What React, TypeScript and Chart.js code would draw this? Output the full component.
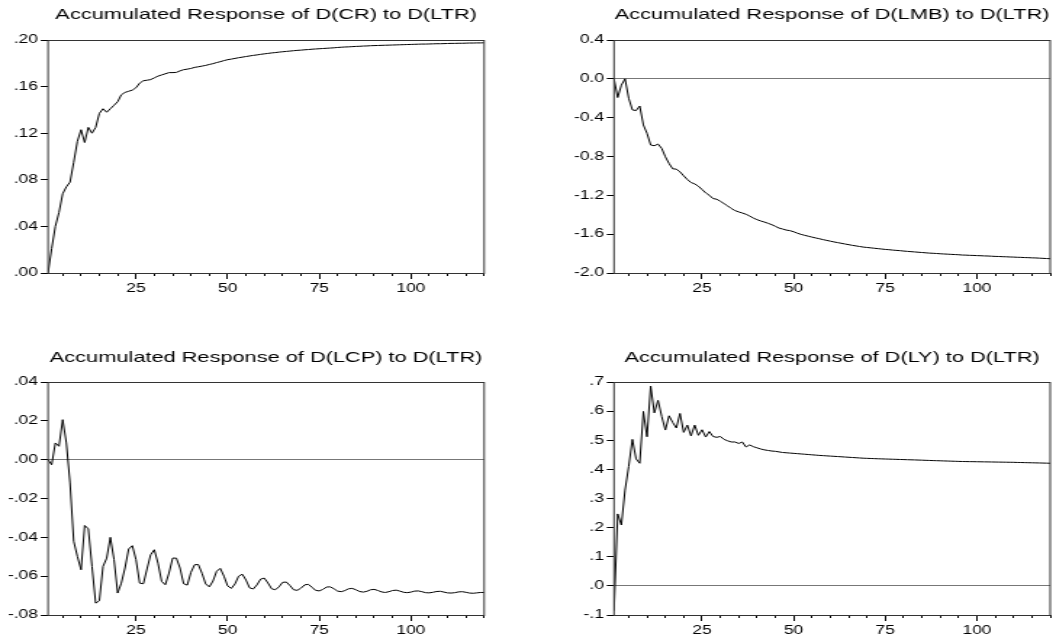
import React, { useEffect, useRef } from 'react';
import { Chart, registerables } from 'chart.js';

Chart.register(...registerables);

// ---------------- DATA ----------------
const periods: number[] = Array.from({ length: 120 }, (_, i) => i + 1);

const xMajorTicks = [25, 50, 75, 100];
const xMajorLabels = ['25', '50', '75', '100'];
const xMinorTicks = [5, 10, 15, 20, 25, 30, 35, 40, 45, 50, 55, 60, 65, 70, 75, 80, 85, 90, 95, 100, 105, 110, 115, 120];

const titles = [
  'Accumulated Response of D(CR) to D(LTR)',
  'Accumulated Response of D(LMB) to D(LTR)',
  'Accumulated Response of D(LCP) to D(LTR)',
  'Accumulated Response of D(LY) to D(LTR)',
];

const crTicks = [0, 0.04, 0.08, 0.12, 0.16, 0.2];
const crLabels = ['.00', '.04', '.08', '.12', '.16', '.20'];
const lmbTicks = [-2.0, -1.6, -1.2, -0.8, -0.4, 0, 0.4];
const lmbLabels = ['-2.0', '-1.6', '-1.2', '-0.8', '-0.4', '0.0', '0.4'];
const lcpTicks = [-0.08, -0.06, -0.04, -0.02, 0, 0.02, 0.04];
const lcpLabels = ['-.08', '-.06', '-.04', '-.02', '.00', '.02', '.04'];
const lyTicks = [-0.1, 0, 0.1, 0.2, 0.3, 0.4, 0.5, 0.6, 0.7];
const lyLabels = ['-.1', '.0', '.1', '.2', '.3', '.4', '.5', '.6', '.7'];

const crResp = [
  0, 0.021, 0.040, 0.052, 0.068, 0.074, 0.078, 0.095, 0.113, 0.123,
  0.112, 0.125, 0.120, 0.125, 0.137, 0.141, 0.138, 0.141, 0.144, 0.147,
  0.153, 0.155, 0.156, 0.157, 0.159, 0.163, 0.165, 0.1655, 0.166, 0.1675,
  0.169, 0.170, 0.171, 0.172, 0.172, 0.1722, 0.1735, 0.1745, 0.175, 0.1756,
  0.1765, 0.1770, 0.1776, 0.1782, 0.1790, 0.1797, 0.1806, 0.1814, 0.1823, 0.1831,
  0.1836, 0.1842, 0.1848, 0.1853, 0.1858, 0.1863, 0.1868, 0.1872, 0.1877, 0.1881,
  0.1885, 0.1889, 0.1892, 0.1896, 0.1899, 0.1902, 0.1905, 0.1908, 0.1911, 0.1913,
  0.1916, 0.1918, 0.1921, 0.1923, 0.1925, 0.1927, 0.1929, 0.1931, 0.1933, 0.1936,
  0.1938, 0.1940, 0.1941, 0.1943, 0.1945, 0.1946, 0.1948, 0.1949, 0.1951, 0.1952,
  0.1953, 0.1954, 0.1955, 0.1956, 0.1957, 0.1958, 0.1959, 0.1960, 0.1961, 0.1962,
  0.1963, 0.1964, 0.1965, 0.1965, 0.1966, 0.1967, 0.1968, 0.1968, 0.1969, 0.1970,
  0.1971, 0.1971, 0.1972, 0.1972, 0.1973, 0.1974, 0.1974, 0.1975, 0.1975, 0.1976,
];

const lmbResp = [
  0, -0.193, -0.065, 0.000, -0.200, -0.320, -0.327, -0.280, -0.475, -0.561,
  -0.682, -0.689, -0.672, -0.716, -0.803, -0.872, -0.927, -0.930, -0.958, -0.999,
  -1.037, -1.068, -1.082, -1.106, -1.140, -1.175, -1.199, -1.233, -1.240, -1.261,
  -1.285, -1.309, -1.336, -1.357, -1.371, -1.382, -1.395, -1.413, -1.434, -1.450,
  -1.464, -1.475, -1.488, -1.502, -1.519, -1.537, -1.547, -1.558, -1.564, -1.575,
  -1.590, -1.602, -1.612, -1.621, -1.630, -1.639, -1.647, -1.656, -1.664, -1.672,
  -1.680, -1.687, -1.694, -1.701, -1.708, -1.715, -1.721, -1.727, -1.733, -1.737,
  -1.741, -1.745, -1.749, -1.753, -1.757, -1.760, -1.764, -1.767, -1.770, -1.774,
  -1.777, -1.780, -1.783, -1.786, -1.789, -1.792, -1.795, -1.797, -1.799, -1.802,
  -1.804, -1.806, -1.808, -1.810, -1.812, -1.815, -1.816, -1.818, -1.819, -1.821,
  -1.822, -1.824, -1.825, -1.827, -1.829, -1.830, -1.832, -1.833, -1.835, -1.836,
  -1.838, -1.839, -1.841, -1.842, -1.844, -1.845, -1.847, -1.849, -1.851, -1.853,
];

const lcpResp = [
  0, -0.0026, 0.0086, 0.0069, 0.0206, 0.0086, -0.012, -0.042, -0.0498, -0.0567,
  -0.0339, -0.0356, -0.055, -0.0739, -0.0727, -0.055, -0.0507, -0.040, -0.0515, -0.0687,
  -0.0636, -0.0558, -0.046, -0.0443, -0.0515, -0.0636, -0.0639, -0.0563, -0.049, -0.0464,
  -0.0533, -0.0627, -0.0644, -0.0584, -0.0507, -0.0507, -0.0558, -0.0639, -0.0646, -0.0580,
  -0.0541, -0.0540, -0.0585, -0.0640, -0.0655, -0.0625, -0.0575, -0.0560, -0.0600, -0.0650,
  -0.0663, -0.0640, -0.0600, -0.0590, -0.0620, -0.0660, -0.0666, -0.0645, -0.0615, -0.0610,
  -0.0635, -0.0665, -0.0670, -0.0655, -0.0632, -0.0630, -0.0648, -0.0670, -0.0673, -0.0662,
  -0.0645, -0.0642, -0.0657, -0.0673, -0.0676, -0.0668, -0.0656, -0.0655, -0.0665, -0.0677,
  -0.0680, -0.0674, -0.0665, -0.0663, -0.0670, -0.0679, -0.0682, -0.0678, -0.0670, -0.0668,
  -0.0674, -0.0681, -0.0684, -0.0680, -0.0674, -0.0672, -0.0677, -0.0683, -0.0685, -0.0682,
  -0.0677, -0.0676, -0.0680, -0.0685, -0.0686, -0.0683, -0.0679, -0.0678, -0.0682, -0.0686,
  -0.0687, -0.0685, -0.0681, -0.0680, -0.0683, -0.0687, -0.0688, -0.0686, -0.0684, -0.0684,
];

const lyResp = [
  -0.085, 0.247, 0.209, 0.329, 0.410, 0.503, 0.436, 0.421, 0.599, 0.512,
  0.686, 0.594, 0.637, 0.582, 0.535, 0.584, 0.561, 0.542, 0.592, 0.527,
  0.552, 0.515, 0.552, 0.517, 0.536, 0.511, 0.530, 0.513, 0.510, 0.513,
  0.503, 0.498, 0.494, 0.494, 0.489, 0.494, 0.477, 0.484, 0.478, 0.474,
  0.470, 0.467, 0.465, 0.463, 0.462, 0.460, 0.458, 0.457, 0.456, 0.455,
  0.454, 0.453, 0.452, 0.451, 0.450, 0.449, 0.448, 0.4472, 0.4464, 0.4456,
  0.4448, 0.4440, 0.4432, 0.4424, 0.4416, 0.4408, 0.4400, 0.4392, 0.4384, 0.4379,
  0.4374, 0.4369, 0.4364, 0.4360, 0.4356, 0.4352, 0.4348, 0.4344, 0.4340, 0.4336,
  0.4332, 0.4328, 0.4325, 0.4320, 0.4316, 0.4311, 0.4307, 0.4302, 0.4298, 0.4294,
  0.4290, 0.4286, 0.4282, 0.4278, 0.4274, 0.4270, 0.4268, 0.4266, 0.4264, 0.4262,
  0.4260, 0.4258, 0.4256, 0.4254, 0.4252, 0.4250, 0.4248, 0.4246, 0.4244, 0.4242,
  0.4238, 0.4235, 0.4232, 0.4229, 0.4226, 0.4223, 0.4220, 0.4217, 0.4214, 0.4210,
];

// ---------------- STYLE / LAYOUT ----------------
const STRETCH = 1.45;
const FONT = '"Liberation Sans", Arial, Helvetica, sans-serif';

type PanelSpec = {
  title: string;
  values: number[];
  yTicks: number[];
  yLabels: string[];
  left: number;
  top: number;
  cssW: number;
  h: number;
  areaLeft: number;
  areaRight: number;
  titlePad: { top: number; bottom: number };
  xAxisH: number;
};

const topPad = { top: 6, bottom: 16 };
const botPad = { top: 28.5, bottom: 15.5 };

const panels: PanelSpec[] = [
  { title: titles[0], values: crResp, yTicks: crTicks, yLabels: crLabels, left: 0, top: 0, cssW: 528, h: 300, areaLeft: 48, areaRight: 484, titlePad: topPad, xAxisH: 27 },
  { title: titles[1], values: lmbResp, yTicks: lmbTicks, yLabels: lmbLabels, left: 528, top: 0, cssW: 528, h: 300, areaLeft: 86, areaRight: 522, titlePad: topPad, xAxisH: 27 },
  { title: titles[2], values: lcpResp, yTicks: lcpTicks, yLabels: lcpLabels, left: 0, top: 320, cssW: 528, h: 319, areaLeft: 48, areaRight: 484, titlePad: botPad, xAxisH: 24 },
  { title: titles[3], values: lyResp, yTicks: lyTicks, yLabels: lyLabels, left: 528, top: 320, cssW: 528, h: 319, areaLeft: 86, areaRight: 522, titlePad: botPad, xAxisH: 24 },
];

const framePlugin = {
  id: 'frame',
  afterDraw(chart: any) {
    const { ctx, chartArea: a } = chart;
    ctx.save();
    ctx.strokeStyle = '#333';
    ctx.lineWidth = 1;
    const t = Math.round(a.top) + 0.5;
    const b = Math.round(a.bottom) + 0.5;
    ctx.strokeRect(a.left, t, a.right - a.left, b - t);
    ctx.restore();
  },
};

function Panel({ spec }: { spec: PanelSpec }) {
  const ref = useRef<HTMLCanvasElement>(null);
  const W = Math.round(spec.cssW / STRETCH);

  useEffect(() => {
    const canvas = ref.current!;
    const yW = spec.areaLeft / STRETCH;
    const padR = W - spec.areaRight / STRETCH;
    const yMin = spec.yTicks[0];
    const yMax = spec.yTicks[spec.yTicks.length - 1];
    const chart = new Chart(canvas, {
      type: 'line',
      data: {
        labels: periods,
        datasets: [
          {
            data: spec.values,
            borderColor: '#000',
            borderWidth: 1,
            pointRadius: 0,
            tension: 0,
            fill: false,
          },
        ],
      },
      options: {
        responsive: false,
        animation: false,
        devicePixelRatio: 1,
        events: [],
        layout: { padding: { left: 0, right: padR, top: 0, bottom: 0 } },
        plugins: {
          legend: { display: false },
          tooltip: { enabled: false },
          title: {
            display: true,
            text: spec.title,
            fullSize: false,
            color: '#000',
            font: { family: FONT, size: 15, weight: 'normal', lineHeight: 1.2 },
            padding: spec.titlePad,
          },
        },
        scales: {
          xMinor: {
            type: 'linear',
            position: 'bottom',
            weight: -1,
            min: 1,
            max: 120,
            afterBuildTicks: (s: any) => {
              s.ticks = xMinorTicks.map((v) => ({ value: v }));
            },
            afterFit: (s: any) => {
              s.height = 0;
            },
            ticks: { display: false },
            grid: { drawOnChartArea: false, tickLength: 3, tickColor: '#000', tickWidth: 1 },
            border: { display: false },
          },
          x: {
            type: 'linear',
            position: 'bottom',
            min: 1,
            max: 120,
            afterBuildTicks: (s: any) => {
              s.ticks = xMajorTicks.map((v) => ({ value: v }));
            },
            afterFit: (s: any) => {
              s.height = spec.xAxisH;
            },
            ticks: {
              color: '#000',
              font: { family: FONT, size: 12 },
              padding: 2,
              maxRotation: 0,
              autoSkip: false,
              callback: (_v: any, i: number) => xMajorLabels[i],
            },
            grid: { drawOnChartArea: false, tickLength: 6, tickColor: '#000', tickWidth: 1 },
            border: { display: false },
          },
          y: {
            type: 'linear',
            position: 'left',
            min: yMin,
            max: yMax,
            afterBuildTicks: (s: any) => {
              s.ticks = spec.yTicks.map((v) => ({ value: v }));
            },
            afterFit: (s: any) => {
              s.width = yW;
            },
            ticks: {
              color: '#000',
              font: { family: FONT, size: 12 },
              padding: 2,
              autoSkip: false,
              callback: (_v: any, i: number) => spec.yLabels[i],
            },
            grid: {
              color: (c: any) => (c.tick && c.tick.value === 0 ? '#777' : 'rgba(0,0,0,0)'),
              lineWidth: 1,
              tickLength: 5,
              tickColor: '#000',
              tickWidth: 1,
            },
            border: { display: false },
          },
        },
      } as any,
      plugins: [framePlugin],
    });
    return () => chart.destroy();
  }, []);

  return (
    <canvas
      ref={ref}
      width={W}
      height={spec.h}
      style={{
        position: 'absolute',
        left: spec.left,
        top: spec.top,
        width: `${W * STRETCH}px`,
        height: `${spec.h}px`,
      }}
    />
  );
}

export default function App() {
  return (
    <div
      style={{
        position: 'fixed',
        left: 0,
        top: 0,
        width: 1056,
        height: 639,
        background: '#fff',
        overflow: 'hidden',
      }}
    >
      {panels.map((p, i) => (
        <Panel key={i} spec={p} />
      ))}
    </div>
  );
}
